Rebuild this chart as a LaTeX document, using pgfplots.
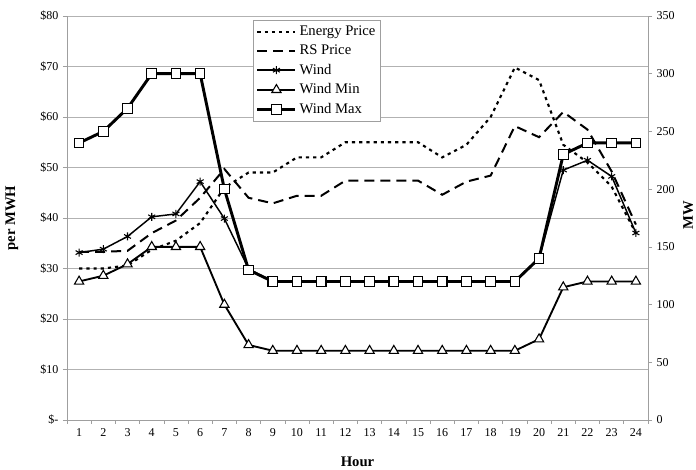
\documentclass[border=0pt]{standalone}
\usepackage{fontspec}
\setmainfont{Liberation Serif}
\usepackage{pgfplots}
\pgfplotsset{compat=1.18}
\usepackage{pgfplotstable}

\pgfplotstableread{
hour energy rs   wind  wmin wmax
1    30.0   33.3 145   120  240
2    30.0   33.3 148   125  250
3    30.6   33.5 159   135  270
4    33.7   37.0 176   150  300
5    35.5   39.5 178.5 150  300
6    39.0   44.0 206.5 150  300
7    46.0   49.7 174.5 100  200
8    49.0   44.0 131   65   130
9    49.0   42.9 120   60   120
10   52.0   44.4 120   60   120
11   52.0   44.4 120   60   120
12   55.0   47.4 120   60   120
13   55.0   47.4 120   60   120
14   55.0   47.4 120   60   120
15   55.0   47.4 120   60   120
16   52.0   44.6 120   60   120
17   54.5   47.2 120   60   120
18   60.0   48.4 120   60   120
19   69.8   58.2 120   60   120
20   67.3   56.0 140   70   140
21   54.5   61.0 216.5 115  230
22   51.0   57.5 225   120  240
23   46.2   49.2 211   120  240
24   37.0   38.7 162   120  240
}\data

\begin{document}
\begin{tikzpicture}
\pgfplotsset{
  /pgf/number format/assume math mode=true,
  base/.style={
    width=435.75pt, height=303pt, scale only axis,
    xmin=0.5, xmax=24.5,
    tick align=outside,
    axis line style={draw=gray!75, line width=0.6pt},
    every tick/.style={draw=gray!75, line width=0.5pt},
    major tick length=3pt, minor tick length=3pt,
    tick label style={font=\fontsize{9}{10}\selectfont},
    label style={font=\fontsize{11}{12}\selectfont\bfseries},
  },
  eprice/.style={black, line width=1.6pt, dash pattern=on 2.4pt off 3pt},
  rsprice/.style={black, line width=1.5pt, dash pattern=on 7.5pt off 4.5pt},
  wind/.style={black, line width=1.1pt, mark=asterisk, mark size=3pt, mark options={solid, line width=0.8pt}},
  wmin/.style={black, line width=1.4pt, mark=triangle*, mark size=4pt, mark options={solid, fill=white, line width=0.8pt}},
  wmax/.style={black, line width=2.2pt, mark=square*, mark size=3.6pt, mark options={solid, fill=white, line width=0.8pt}},
}
\begin{axis}[base, name=main,
  axis x line*=bottom, axis y line*=left,
  ymin=0, ymax=80, ytick={0,10,...,80},
  yticklabels={\$-,\$10,\$20,\$30,\$40,\$50,\$60,\$70,\$80},
  ymajorgrids, grid style={draw=gray!60, line width=0.6pt},
  xtick={1,...,24}, major x tick style={draw=none},
  minor xtick={0.5,1.5,...,24.5},
  xlabel={Hour}, ylabel={per MWH},
  xlabel style={at={(axis description cs:0.5,-0.104)}, anchor=center},
  ylabel style={at={(axis description cs:-0.095,0.5)}, anchor=center},
  legend style={at={(axis description cs:0.32,0.99)}, anchor=north west,
    draw=gray!75, line width=0.6pt, fill=white,
    font=\fontsize{11}{12}\selectfont, row sep=1.6pt, inner sep=2pt},
  legend cell align=left,
  legend image code/.code={\draw[mark repeat=2,mark phase=2,#1]
    plot coordinates {(0cm,0cm) (0.5cm,0cm) (1.0cm,0cm)};},
]
\addplot[eprice] table[x=hour, y=energy] {\data};
\addplot[rsprice] table[x=hour, y=rs] {\data};
\addlegendimage{wind}
\addlegendimage{wmin}
\addlegendimage{wmax}
\legend{Energy Price, RS Price, Wind, Wind Min, Wind Max}
\end{axis}
\begin{axis}[base,
  axis x line=none, axis y line*=right,
  ymin=0, ymax=350, ytick={0,50,...,350},
  ylabel={MW},
  ylabel style={at={(axis description cs:1.069,0.507)}, anchor=center},
]
\addplot[wmin] table[x=hour, y=wmin] {\data};
\addplot[wind] table[x=hour, y=wind] {\data};
\addplot[wmax] table[x=hour, y=wmax] {\data};
\end{axis}
\pgfresetboundingbox
\path ([shift={(-50.25pt,-37.5pt)}]main.south west) rectangle ([shift={(36pt,12pt)}]main.north east);
\end{tikzpicture}
\end{document}
